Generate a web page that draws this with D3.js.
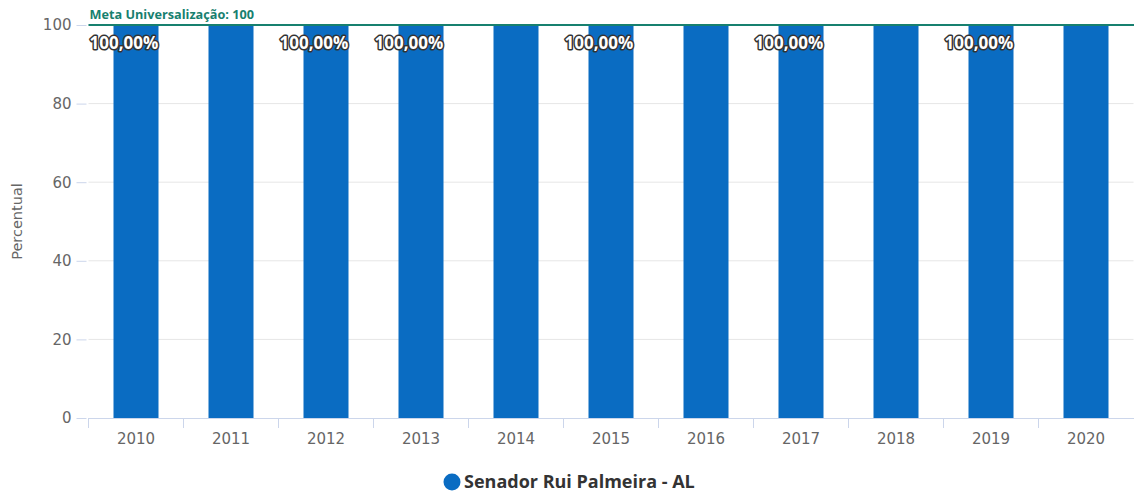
<!DOCTYPE html>
<html>
<head>
<meta charset="utf-8">
<script src="https://cdn.jsdelivr.net/npm/d3@7"></script>
<style>
  body { margin: 0; background: #fff; }
  svg { display: block; font-family: "Open Sans", "Lato", sans-serif; }
  .axis-text { font-family: "DejaVu Sans", sans-serif; }
</style>
</head>
<body>
<svg id="chart" width="1134" height="493"></svg>
<script>
// Coverage series per year
const years = ["2010","2011","2012","2013","2014","2015","2016","2017","2018","2019","2020"];
const values = [100,100,100,100,100,100,100,100,100,100,100];
// Years whose value label is displayed (others are hidden to avoid overlap)
const labelledYears = ["2010","2012","2013","2015","2017","2019"];
const yTicks = [0,20,40,60,80,100];
const goalValue = 100;
const goalLabel = "Meta Universalização: 100";
const seriesName = "Senador Rui Palmeira - AL";
const yTitle = "Percentual";

const svg = d3.select("#chart");
const margin = { left: 88.5, right: 0.5, top: 25, bottom: 75 };
const W = 1134, H = 493;
const plotBottom = 418;

const x = d3.scaleBand().domain(years).range([margin.left, W - margin.right]).paddingInner(0).paddingOuter(0);
const y = d3.scaleLinear().domain([0, 100]).range([plotBottom, margin.top]);

const barColor = "#0a6cc2";
const goalColor = "#17806f";

// Grid lines
svg.append("g").selectAll("line").data(yTicks.filter(t => t > 0)).join("line")
  .attr("x1", margin.left).attr("x2", W - margin.right)
  .attr("y1", d => y(d)).attr("y2", d => y(d))
  .attr("stroke", "#e6e6e6").attr("stroke-width", 1);

// Bars
const barW = 45;
svg.append("g").selectAll("rect").data(years.map((yr, i) => ({ yr, v: values[i] }))).join("rect")
  .attr("x", d => x(d.yr) + x.bandwidth() / 2 - barW / 2)
  .attr("y", d => y(d.v))
  .attr("width", barW)
  .attr("height", d => y(0) - y(d.v))
  .attr("fill", barColor);

// Y axis
const yAxis = svg.append("g").attr("transform", `translate(${margin.left},0)`)
  .call(d3.axisLeft(y).tickValues(yTicks).tickSize(10).tickPadding(6));
yAxis.select(".domain").remove();
yAxis.selectAll(".tick line").attr("stroke", "#ccd6eb").attr("transform", "translate(-2,0)");
yAxis.selectAll(".tick text").attr("class", "axis-text").attr("fill", "#666").style("font-size", "15px").attr("x", -17);

// X axis
const xAxis = svg.append("g").attr("transform", `translate(0,${plotBottom})`)
  .call(d3.axisBottom(x).tickSize(0).tickPadding(15));
xAxis.select(".domain").attr("stroke", "#ccd6eb");
xAxis.selectAll(".tick text").attr("class", "axis-text").attr("fill", "#666").style("font-size", "15px");
// Tick marks on band boundaries
xAxis.append("g").selectAll("line").data(years).join("line")
  .attr("x1", d => x(d)).attr("x2", d => x(d))
  .attr("y1", 0).attr("y2", 10)
  .attr("stroke", "#ccd6eb");

// Y axis title
svg.append("text")
  .attr("class", "axis-text")
  .attr("transform", `translate(22,${(plotBottom + margin.top) / 2}) rotate(-90)`)
  .attr("text-anchor", "middle")
  .attr("fill", "#666")
  .style("font-size", "14.5px")
  .text(yTitle);

// Goal line and label
svg.append("line")
  .attr("x1", margin.left).attr("x2", W)
  .attr("y1", y(goalValue)).attr("y2", y(goalValue))
  .attr("stroke", goalColor).attr("stroke-width", 2);
svg.append("text")
  .attr("x", margin.left + 1).attr("y", y(goalValue) - 6)
  .attr("fill", goalColor)
  .style("font-size", "12.7px").style("font-weight", "bold")
  .text(goalLabel);

// Value labels
const fmt = v => v.toFixed(2).replace(".", ",") + "%";
svg.append("g").selectAll("text").data(years.map((yr, i) => ({ yr, v: values[i] })).filter(d => labelledYears.includes(d.yr))).join("text")
  .attr("x", d => x(d.yr) + x.bandwidth() / 2 - 12)
  .attr("y", d => y(d.v) + 24)
  .attr("text-anchor", "middle")
  .attr("fill", "#fff")
  .attr("stroke", "#333")
  .attr("stroke-width", 3)
  .attr("stroke-linejoin", "round")
  .attr("paint-order", "stroke")
  .style("font-size", "17px").style("font-weight", "bold")
  .text(d => fmt(d.v));

// Legend
const legend = svg.append("g").attr("transform", "translate(452,482)");
legend.append("circle").attr("r", 8.5).attr("fill", barColor);
legend.append("text").attr("x", 12).attr("y", 6)
  .attr("fill", "#333").style("font-size", "18px").style("font-weight", "bold")
  .text(seriesName);
</script>
</body>
</html>
